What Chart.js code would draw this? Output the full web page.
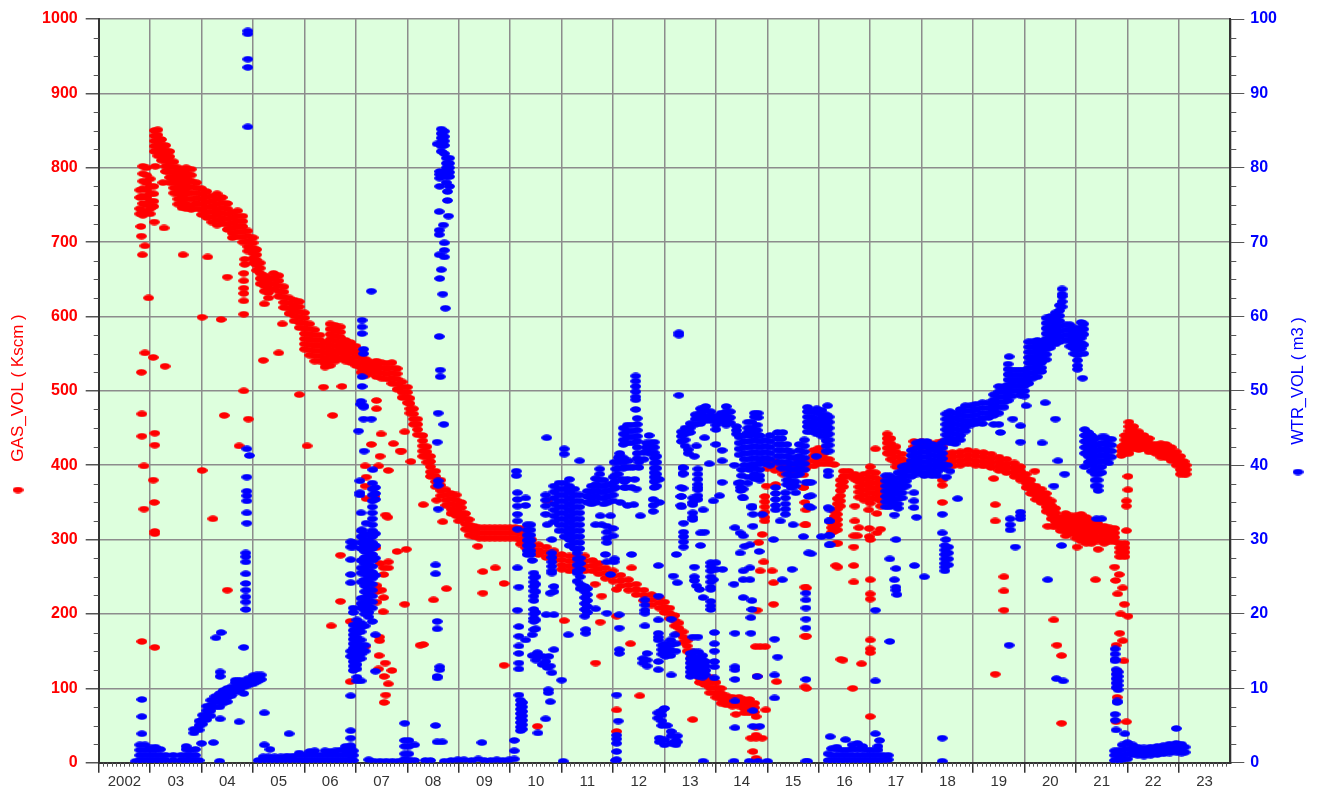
<!DOCTYPE html>
<html>
<head>
<meta charset="utf-8">
<title>GAS_VOL / WTR_VOL</title>
<script src="https://cdn.jsdelivr.net/npm/chart.js@4"></script>
<style>
  html, body { margin: 0; padding: 0; background: #fff; }
  #box { width: 1323px; height: 789px; }
</style>
</head>
<body>
<div id="box"><canvas id="chart" width="1323" height="789"></canvas></div>
<script>
// every row is: year, then the values read at that year
const yearLabels = ["2002","03","04","05","06","07","08","09","10","11","12","13","14","15","16","17","18","19","20","21","22","23"];

const gasEarly = [
  [2002.8,770,760,745,738],[2002.86,802,792,782,772,762,752,742,736],[2002.93,800,790,780,770,760,750,740],
  [2003.0,785,775,765,755,745,738],[2003.07,775,765,755,748],[2003.1,802],[2003.25,780]
];
const gasBand2003 = [
  [2003.08,850,843,836,829,822],[2003.15,851,844,837,830,823,816],[2003.22,838,831,824,817,810],
  [2003.3,830,823,816,809,802,795],[2003.38,822,815,808,801,794,787,780],[2003.46,808,801,794,787,780,773,766],
  [2003.54,800,793,786,779,772,765,758,751],[2003.62,795,788,781,774,767,760,753,746],[2003.7,800,793,786,779,772,765,758,751,745],
  [2003.8,798,790,782,774,766,758,750,744],[2003.9,780,773,766,759,752,745],[2004.0,772,765,758,751,744,737],
  [2004.1,768,761,754,747,740,733],[2004.2,762,755,748,741,734,727],[2004.3,765,758,751,744,737,730,723],
  [2004.4,760,753,746,739,732,725],[2004.5,752,745,738,731,724,717],[2004.6,740,733,726,719,712,706],
  [2004.7,742,735,728,721,714,707],[2004.8,735,728,721,714,707,700],[2004.9,715,708,701,694,688],
  [2005.0,706,699,692,685,678,672],[2005.07,690,683,676,669,662],[2005.14,672,665,658,651,644],
  [2005.22,655,648,641,634],[2005.3,652,645,638,632],[2005.4,658,651,644,637],[2005.5,655,648,641,634,627],
  [2005.6,640,633,626,619,612],[2005.7,625,618,611,604],[2005.8,622,615,608,601,594],[2005.9,620,613,606,599,592,585],
  [2006.0,605,598,591,584,577,570,563,556],[2006.1,590,583,576,569,562,555,548],[2006.2,582,575,568,561,554,547,540],
  [2006.3,575,568,561,554,547,540],[2006.4,565,558,551,544,537,532],[2006.5,590,583,576,569,562,555,548,541,534],
  [2006.6,588,581,574,567,560,553,546,540],[2006.7,586,579,572,565,558,551,544],[2006.8,568,561,554,547,540],
  [2006.9,565,558,551,544,538],[2007.0,560,553,546,539,534],[2007.1,552,545,538,531,525],[2007.2,542,535,528,521],
  [2007.3,538,531,524],[2007.4,540,533,526,519],[2007.5,538,531,524,517],[2007.6,537,530,523,516],
  [2007.7,538,531,524,517,510],[2007.8,530,523,516,509,502],[2007.9,512,505,498,491],[2008.0,505,498,491,484]
];
const gasBand2008 = [
  [2008.05,490,483,476,470],[2008.12,476,469,462,455],[2008.2,462,455,448,441],[2008.3,440,433,426,419,412],
  [2008.38,425,418,411,404],[2008.45,412,405,398,391,385],[2008.55,392,385,378,371],[2008.65,380,373,366,359],
  [2008.75,367,360,353,346],[2008.85,362,355,348,341,335],[2008.95,360,353,346,339,332],[2009.05,350,343,336,329],
  [2009.13,335,328,321,314],[2009.2,327,320,313,306],[2009.3,318,311,304],[2009.4,316,309,302],[2009.5,316,309,302],
  [2009.6,316,309,302],[2009.7,316,309,302],[2009.8,316,309,302],[2009.9,316,309,302],[2010.0,316,309,302],[2010.1,316,309,302],
  [2010.2,315,308,300,294],[2010.3,310,303,296,289],[2010.42,300,293,286],[2010.55,293,286,280],[2010.7,290,283,276],
  [2010.85,285,278,272],[2011.0,280,273,266,260],[2011.15,278,271,264,258],[2011.3,278,271,264,258],[2011.45,278,271,264,258],
  [2011.6,272,265,258],[2011.72,268,261,254],[2011.85,262,255,248],[2012.0,258,251,244],[2012.15,252,245,238],
  [2012.3,246,239,232],[2012.45,240,233,226],[2012.6,232,225,218],[2012.75,226,219,212],[2012.9,222,215,208],
  [2013.0,216,209,202],[2013.1,208,201,194],[2013.2,198,191,184],[2013.28,188,181,174],[2013.36,176,169,162],
  [2013.44,164,157,150],[2013.52,150,143,136],[2013.6,140,133,126],[2013.68,128,121,114,108],[2013.78,118,111,105],
  [2013.88,115,108,101,94],[2014.0,108,101,94,88],[2014.1,100,93,86,80],[2014.2,90,84,78],[2014.32,88,82,76],
  [2014.45,88,82,76],[2014.55,85,79,73,67],[2014.65,85,79,73,67],[2014.75,80,74,68]
];
const gasBand2015 = [
  [2015.0,408,402,396],[2015.15,405,399,393],[2015.3,400,394,388],[2015.45,400,392],[2015.6,408,400,394],[2015.75,408,402,396],
  [2015.9,420,413,406,399],[2016.0,423,416,409,402],[2016.1,416,409,402],[2016.2,408,402],[2016.3,401],
  [2014.95,358,351,344,337,330,325],[2015.16,374],[2014.98,372],
  [2016.25,322,316,310],[2016.3,338,331,324,317,311],[2016.36,355,348,341,334,327,320,313],[2016.42,380,373,366,359,352,345],
  [2016.48,392,385,378,371],[2016.58,392,385],[2016.7,388,381],[2016.78,385,378,371,364,357],[2016.88,388,381,374,367,360,353],
  [2017.0,398,391,384,377,370,363,356,349],[2017.1,390,383,376,369,362,355],[2017.2,380,373,366,359,352],[2017.3,375,368,361,354],
  [2017.4,370,362],[2017.33,442,436,430,423,416],[2017.4,436,429,422,415,408],[2017.5,425,418,411,404,398],
  [2017.62,415,408,401,395],[2017.75,405,398],[2017.85,432,425],[2018.0,432,425],[2018.15,430,424],[2018.3,430,424],[2018.4,432,425]
];
const gasBand2018 = [
  [2018.47,416,410,404,398],[2018.6,417,411,405,399],[2018.75,418,412,406,400],[2018.9,420,414,408,402],[2019.05,418,412,406,400],
  [2019.2,417,411,405,399],[2019.35,415,409,403,397],[2019.5,411,405,399,393],[2019.65,408,402,396,390],[2019.8,403,397,391,385],
  [2019.92,398,392,386,380],[2020.03,388,382,376,370],[2020.12,380,374,368,362],[2020.22,372,366,360,354],[2020.32,368,362,356,350],
  [2020.42,362,356,350,344,338],[2020.52,352,346,340,334,328],[2020.6,342,336,330,324,318],[2020.7,330,324,318,312],
  [2020.8,335,329,323,317,311,305],[2020.9,332,326,320,314,308],[2021.0,332,326,320,314,308,302],[2021.1,334,328,322,316,310,304,298],
  [2021.2,330,324,318,312,306,300,295],[2021.3,325,319,313,307,301,295],[2021.42,322,316,310,304,298],[2021.55,318,312,306,300,295],
  [2021.65,316,310,304,298],[2021.75,315,309,303,297],[2021.85,295,289,283,277],[2021.95,295,289,283,277],[2020.45,318],[2020.55,318],
  [2021.88,425,419,413],[2021.95,440,434,428,422,416],[2022.03,458,452,446,440,434,428,422,416],[2022.12,452,446,440,434,428,422],
  [2022.22,445,439,433,427,421],[2022.32,440,434,428,422],[2022.42,436,430,424,418],[2022.55,428,422,416],[2022.65,429,423,417,411],
  [2022.75,428,422,416,410],[2022.85,424,418,412,406],[2022.95,418,412,406,400],[2023.03,412,406,400,394,388],[2023.1,405,399,393,388],[2023.14,400,394,388]
];
const gasStray = [
  [2002.82,721],[2003.08,727],[2003.27,719],[2002.83,708],[2002.9,695],[2002.85,683],[2002.97,625],[2002.9,551],[2003.06,545],[2003.29,533],[2002.83,525],
  [2003.64,683],[2004.12,680],[2004.5,653],[2004.82,658,648,638,631,621,603,500],[2004.84,677,670],[2004.01,599],[2004.38,596],[2005.22,617],[2005.3,625],
  [2005.57,590],[2005.5,551],[2005.2,541],[2006.37,505],[2006.73,506],[2005.9,495],
  [2002.84,469,439],[2003.09,443,427],[2002.88,399],[2003.06,380],[2003.08,350],[2002.88,341],[2003.09,311,308],[2002.84,163],[2003.09,155],
  [2004.01,393],[2004.22,328],[2004.44,467],[2004.5,232],[2004.73,426],[2004.91,462],[2006.05,426],[2006.55,467],[2006.7,279,217],[2006.52,184],[2006.89,109,190],
  [2007.4,487,476],[2007.49,442],[2007.3,428],[2007.73,429],[2007.86,419],[2007.47,412],[2007.95,445],[2007.63,393],[2007.18,399],[2007.44,399],[2007.2,384],[2007.18,372],
  [2007.2,355],[2007.37,358],[2007.58,333],[2007.62,330],[2007.39,289],[2007.8,284],[2007.98,287],[2007.47,268],[2007.63,270],[2007.54,262],[2007.63,262],[2007.54,253],
  [2007.41,238],[2007.5,232],[2007.4,230],[2007.54,222],[2007.41,216],[2007.95,213],[2007.53,203],[2007.46,169,164],[2007.45,144],[2007.57,134],[2007.44,126],[2007.7,124],
  [2007.55,116],[2007.63,106],[2007.58,91],[2007.55,81],[2007.18,156],[2008.25,158],[2008.07,405],
  [2007.89,419],[2008.31,347],[2008.69,324],[2009.0,325],[2008.57,353],[2009.37,291],[2009.47,257],[2009.71,262],[2009.88,241],[2008.76,234],[2009.47,228],[2008.51,219],[2008.31,159],[2009.88,131],
  [2010.53,49],[2010.72,352],[2011.05,191],[2011.75,189],[2011.78,224],[2011.65,240],[2012.07,233],[2012.36,262],[2012.07,197],[2012.34,160],[2011.66,134],[2012.07,71,42],[2013.55,58],[2012.52,90],
  [2014.39,65],[2014.78,62,48,37,33],[2014.68,33],[2014.9,33],[2014.72,15],[2014.78,6],[2014.97,71],
  [2014.8,116],[2015.18,109],[2015.73,102,170,236,320,350],[2015.7,370,387],[2015.12,213],[2014.93,270],[2014.86,258],[2015.09,258],[2015.12,242],[2014.8,205],[2014.86,156],[2014.77,156],[2014.96,156],
  [2016.43,139],[2016.33,265,295],[2014.83,296],[2014.9,307],
  [2020.2,392],[2019.4,382],[2019.43,347,325],[2019.6,250,231,205],[2019.43,119],[2020.57,192],[2020.63,158],[2020.72,144,53],[2021.02,290],[2021.43,287],[2021.38,246],
  [2022.01,385,367],[2021.98,352,345,312],[2021.75,263],[2021.84,253],[2021.77,245],[2021.91,235],[2021.81,227],[2021.94,213],[2021.87,200],[2022.01,197],[2021.85,174],[2021.91,164],[2021.78,158],[2021.93,137],[2021.8,123],[2021.8,88],[2021.78,55],[2021.98,55],
  [2018.4,380,373,350],[2016.37,295,263],[2016.68,290,265,243],[2017.0,246,227,220,165,153,148,62],[2016.47,138],[2016.83,133],[2016.66,100],[2016.68,305],[2016.75,305],
  [2017.1,422],[2016.78,316],[2016.98,315],[2017.2,314],[2017.13,309],[2016.98,304],[2017.0,300],[2017.13,335],[2016.97,340],[2017.2,345],[2016.7,345,325],
  [2015.76,235],[2015.76,170],[2015.76,100],[2015.7,370],[2015.75,340,320]
];

const wtrBottom2002 = [
  [2002.72,0.2],[2002.8,0.3,1,1.7,2.4],[2002.9,0.3,1,1.7,2.4],[2003.0,0.3,1,1.7,2],[2003.1,0.3,1,1.7,2.1],[2003.2,0.3,1,1.8],[2003.3,0.3,1],
  [2003.45,0.3,1],[2003.6,0.3,1],[2003.7,0.3,1,1.8,2.2],[2003.78,0.3,1,1.7],[2003.88,0.3,1],[2003.95,0.3],
  [2002.84,8.5,6.2,3.9],[2004.0,2.6],[2004.23,2.7],[2003.88,1.8],[2004.35,0.2],
  [2005.1,0.3],[2005.2,0.3,0.8],[2005.3,0.3,0.8],[2005.42,0.3,0.8],[2005.54,0.3,0.8],[2005.66,0.3,0.9],[2005.78,0.3,0.9],[2005.9,0.3,1,1.3],[2006.0,0.3,1],
  [2006.1,0.3,1,1.5],[2006.2,0.3,1,1.6],[2006.3,0.3,1],[2006.4,0.3,1,1.6],[2006.5,0.3,1,1.5],[2006.6,0.3,1,1.6],[2006.7,0.3,1,1.7],[2006.8,0.3,1,1.6,2.2],[2006.9,0.3,1,1.6,2.3],[2006.95,0.3,1,1.6],
  [2005.22,6.7,2.4],[2005.33,1.8],[2005.7,3.9]
];
const wtrRise2004 = [
  [2003.85,4,4.5],[2003.95,4.4,5,5.6],[2004.02,5.2,5.8,6.4],[2004.1,5.8,6.4,7,7.6],[2004.18,6.3,7,7.7,8.4],[2004.26,7.5,8.2,8.9],
  [2004.35,7.5,8.2,8.9,9.3],[2004.42,8,8.6,9.2,9.7],[2004.5,8.2,8.8,9.4,10],[2004.58,9,9.6,10.2],[2004.66,9.5,10.1,10.8,11.1],
  [2004.74,9.8,10.4,11.1],[2004.82,10.2,10.8],[2004.9,10.4,11,11.3],[2005.0,10.6,11.2,11.7],[2005.08,10.9,11.5,11.8],[2005.16,11.2,11.8],
  [2004.36,12.2,11.6,5.9],[2004.38,17.5],[2004.28,16.8],[2004.82,15.5,9.3],[2004.73,5.5],
  [2004.88,42.2,38.4,36.5,35.9,35.2,33.6,32.2],[2004.93,41.3],[2004.86,28.2,27.7,27,25.4,24.1,23.2,22.3,21.6,20.6],
  [2004.9,98.4,98,94.6,93.5,85.5]
];
const wtrColumn2007 = [
  [2006.9,29.7,29,25.3,24.2,15,14.3],[2006.95,20.8,20.2,18.5,17.8,17.2,16.6,16,15.4,14.8,14.2,13.6,13,12.4],
  [2007.02,19.2,18.6,18,17.4,16.8,16.2,15.6,15,14.4,13.8,13.2,12.6,11.5,11],[2007.1,18.8,18.2,17.6,16.5,15.8,15.2,14.6,14,11],[2007.18,18.4,15.8,15],
  [2006.9,27.3,9,4.3,3.3,2,1.2,0.3],[2006.95,29.6,29],[2007.1,31.2,30.4,29.6,28.8,27.2,26.2,25.5,24.3,22.1,21.4,20.8],
  [2007.17,30.8,30,29.2,28.4,27.6,26.8,26,25.4,24.6,23.8,23,22.2,21.4,20.6,20],[2007.25,30.6,29.8,29,28.2,27.4,26.6,25.8,25,24.2,23.4,22.6,21.8,21,20.2,19.6],
  [2007.32,37.6,36.8,36,35.2,34.4,33.6,32.8,32,31.2,30.4,29.6,28.8,28,27.2,26.4,25.6,24.8,24,23.2,22.4,21.6,20.8,19],[2007.38,37,36.2,35.4,30.8,29.2,27.5,25.2,17.2,12.3],
  [2007.12,59.5,58.6,57.7,51.9,50.6],[2007.15,55.6,55],[2007.09,48.2],[2007.15,47.8],[2007.1,48.6],[2007.15,48],[2007.15,46.2],[2007.3,46.2,63.4],[2007.05,44.6],[2007.16,41.9],[2007.33,39.4],[2007.08,37.9],[2007.08,36.3,36],[2007.1,33.6],[2007.2,32.2],[2007.12,31.3],
  [2007.25,0.4],[2007.35,0.2],[2007.47,0.2],[2007.59,0.2],[2007.71,0.2],[2007.83,0.2],[2007.95,0.2,0.5,5.3,3,2.2,1.2],[2008.03,3,2.2,1.2,0.4],[2008.14,2.4,0.3],[2008.05,0.2]
];
const wtrSpike2008 = [
  [2008.66,85.2,84.6,84,83.4,82.9,82.2],[2008.72,84.9,84.2,83.6,83,81.9],[2008.58,83.2],[2008.76,81.3,80.6,80,79.4,78.8,78],[2008.82,81.3,80.6,80,79.4,78.8,77.5],
  [2008.63,79.5,79.1,78.6,77.5],[2008.78,76.8,75.6],[2008.62,74.1],[2008.8,73.5],[2008.7,72.3],[2008.62,71.6,71],[2008.72,69.9,68.9],[2008.62,68.3],[2008.72,68],[2008.66,66.3],[2008.63,65.1],[2008.69,63],[2008.74,61.1],[2008.62,57.3],[2008.64,52.8,51.9],
  [2008.6,47,37.9,37.3,34.1],[2008.71,45.5],[2008.58,43.1,19,18],[2008.55,26.6,25.4,5],[2008.63,12.9,12.5],[2008.58,11.4,11.6],[2008.58,2.8],[2008.68,2.8],
  [2008.35,0.3],[2008.45,0.3],[2008.72,0.2],[2008.85,0.3],[2008.98,0.4],[2009.1,0.4],[2009.25,0.3],[2009.38,0.5],[2009.5,0.3],[2009.62,0.3],[2009.74,0.4],[2009.86,0.3],[2009.98,0.4],[2010.08,0.5,3,1.6],[2009.45,2.7]
];
const wtrColumn2010 = [
  [2010.12,39.2,38.6],[2010.14,36.3,35.4,34.5,33.4,32.5,31.4,26.2,20.5],[2010.3,35.6,34.6],[2010.17,23.6,18.3,17,15.7,14.7,13.4,12.6,9.1],[2010.3,16.5],
  [2010.2,8.4,7.8,7.2,6.6,6,5.4,4.8,4.3],[2010.24,8.1,7.5,6.9,6.3,5.7,5.1,4.5],
  [2010.33,32,31.3,30.6,29.9,29.2,28.5,28],[2010.4,32,31.3,30.6,29.9,29.2,28.5,28],[2010.43,27.2],[2010.46,25.5,24.9,24.3,23.7,23.1,22.4,21.8,20.6,20,19.4,19,17.9],[2010.43,17.2],[2010.5,25,24,23,20.2,19.2,18],
  [2010.43,14.4],[2010.56,14.3],[2010.69,13.6],[2010.85,15.2],[2010.75,14.3],[2010.78,13],[2010.81,12.1],[2010.63,14.3],[2010.53,14.8],[2010.5,13.8],[2010.62,13.2],[2010.72,12.8],[2011.0,11.1],[2010.74,9.8,9.4],[2010.78,8.2],[2010.69,5.9],[2010.54,4],[2011.03,0.2],
  [2010.71,43.7],[2010.69,36,35.3,34.5,33.4],[2010.72,32],[2010.81,30,28.2,27.6,27,26.4,25.8,25.5],[2010.85,23.7,23,19.9],[2010.78,22.8],[2010.7,19.9],
  [2010.85,37.2,36.4,35.6,34.8,34,33.2,32.4],[2010.95,37.6,36.8,36,35.2,34.4,33.6,32.8,32,31.2],[2011.05,37.6,36.8,36,35.2,34.4,33.6,32.8,32,31.2,30.4],[2011.15,37.2,36.4,35.6,34.8,34,33.2,32.4,31.6,30.8,30,29.2],[2011.25,36.8,36,35.2,34.4,33.6,32.8,32,31.2,30.4,29.6,28.8],[2011.35,36,35.2,34.4,33.6,32.8,32,31.2,30.4,29.6,28.8],
  [2011.05,42.2,41.5],[2011.35,40.6],[2011.15,38.1],
  [2011.3,28.2,27.4,26.6,25.8,25.5,24.4],[2011.36,27.5,26.8,26,25,24,23.4],[2011.45,23.7,23,22.2,21.4,20.6,19.7],[2011.5,23.4,22.6,21.8,21,20.2],[2011.47,17.9,17.4],[2011.13,17.2],
  [2011.5,36.5,35.8,35],[2011.58,37.2,36.4,35.6,34.8],[2011.66,38.2,37.4,36.6,35.8,35],[2011.74,39.5,38.8,38,37.2,36.4,35.6],[2011.82,38,37.2,36.4,35.6,34.8],[2011.9,37.4,36.6,35.8,35],[2012.0,38.4,37.6,36.8,36,35.2],[2012.05,39.5,38.7,37.9,37],
  [2012.1,41,40.4,39.6,38.8],[2012.2,41,40.4,39.6],[2012.3,40.6,39.7],[2012.02,40.4],[2012.25,37],[2012.28,38.1],[2012.18,38.1],[2012.42,38.1],[2012.4,34.7],[2012.28,34.6],[2012.53,33.2],[2012.36,37],[2012.45,36.8],
  [2011.75,33.2],[2011.88,31.8,31,30.2,29.6],[2011.78,32],[2011.66,32],[2011.95,33.2],[2012.0,31.5,30.5],[2011.85,28],[2012.03,27.4],[2011.95,25.3],[2011.88,27],[2012.02,27],[2012.36,28],[2011.66,20.7],[2011.88,20.1]
];
const wtrColumn2012 = [
  [2012.44,52,51.3,50.6,49.9,49.2,48.8,47.5],[2012.47,46.3,45.5,44.7,43.9,43.2,42.4,41.6,40.9],[2012.2,45,44.2,43.4,42.8],[2012.28,45.4,44.6,43.8,43],[2012.37,45.4,44.6,43.8,43],[2012.13,41.6,41.2],
  [2012.5,40.4,39.7],[2012.6,41.7,40.8],[2012.7,44],[2012.65,43,42.4,41.8],[2012.72,43,42.4,41.6],[2012.8,43.1,42.4,41.7,41,40.3,39.6,39,38.4,37.8,37],[2012.85,41.2,40.4,39.6,38.8,38.2,37.2],[2012.9,38.1,35],[2012.78,35.4,34.6,33.8],[2012.38,39.7],[2012.14,35],[2012.22,39.7,37.8,37],
  [2012.62,21.9,21.2,20.5,20.1,18.4],[2012.66,14.7,13.8,13],[2012.58,14,13.4],[2012.88,22.4,26.5,19.2,17.4,16.9,16.5,13.6,12.5],[2013.13,19.3,11.8],[2013.02,16,15.4,14.8,14.3],[2013.12,16.5,15.8,15.1,14.4],[2013.22,16,15],[2012.95,15.8,15.2,14.6],[2013.17,25.1],[2013.25,24.2],[2013.2,17.2],[2013.65,16.9],[2013.55,16.9],
  [2013.0,7.3],[2012.87,6.7,6],[2012.95,7,6.4,5.6,5],[2013.05,5],[2013.13,4.2,3.6],[2013.25,3.6,2.8],[2012.9,3.3,2.8],[2013.0,3.1,2.4],[2013.13,2.6],[2013.22,3,2.4],
  [2012.07,9.1,3.7,3.2,2.6,1.5,0.4],[2012.1,5.6],[2012.12,18.1,19.9,15.2,14.7],
  [2013.36,39.7,38.8,36.9],[2013.33,35.8,34.4],[2013.37,32.2,31,30.4,29.7,29],[2013.23,28],
  [2013.65,39.5,38.8,38.1,37.4,36.7,35.9],[2013.55,35.6,35,34.7,33.6,33,32.7],[2013.75,34],[2013.7,30.9,29.2],[2013.78,31],[2013.58,26.3,25,24.5],[2013.62,23.8],[2013.68,23.3],[2013.75,22.2],
  [2013.9,26.9,26.4,25.8,25,24.3,23.6,23.3,21.7,21.1,20.6],[2014.0,26.9,26],[2014.13,26],[2013.95,24.6],[2013.97,17.5,16,15,13.6,12.9,11.4],
  [2013.5,14.7,14,13.4,12.8,12.2,11.6],[2013.58,14.9,14.2,13.6,13,12.4,11.8],[2013.66,14.9,14.2,13.6,13,12.4,11.6],[2013.74,14.4,13.8,13.2,12.6,12,11.5],[2013.8,13.6,13,12.4,11.8],
  [2014.37,31.6,17.4,12.9,12.5,11.2,8.3,4.7],[2014.47,30.9,37.7],[2014.53,30.5,36.8,35.6,25.8,24.6],[2014.56,29.1],[2014.47,28.2],[2014.66,29.3,26.2,24.6],[2014.84,28.4],[2014.35,24],[2014.53,22.2],[2014.7,21.8,20.6,34.5],[2014.68,19.5,17.4],[2014.72,33.4,31.8],[2014.9,33.4],[2014.72,7,4.9],[2014.85,4.9],[2014.8,11.6],
  [2015.2,14.2],[2015.14,16.6,11.8,8.7],[2015.16,37,36.2,35.4,34.6,34],[2015.35,36.3,35.6,34.8,34.1,33.4],[2015.55,36.3],[2015.25,32.5],[2015.5,32],[2015.7,30.4],[2015.8,28.2],[2015.8,34.5,37.7,35.8],[2015.12,30],[2015.48,26],[2015.29,24.6],
  [2015.75,22.8,21.9,20.8,19.3,18.1,11.2],[2016.18,34.3],[2016.2,32.5,30.5,29.3],
  [2012.05,0.3],[2013.75,0.2],[2014.35,0.2],[2014.65,0.2],[2014.82,0.2],[2015.0,0.2],[2015.78,0.2]
];
const wtrArc2013 = [
  [2013.33,44.5,43.9,43.2],[2013.4,45,44.2,43.4,42.6],[2013.46,42.1,41.6],[2013.5,45.6,45,44.4],[2013.6,46.8,46.2,45.5],[2013.7,47.6,47,46.3,45.6],[2013.8,47.9,47.3,46.6,46],
  [2013.9,47.2,46.6,46],[2014.0,46.6,46,45.4,44.8],[2014.1,47,46.4,45.8],[2014.2,47.9,47.2,46.6,46,45.4],[2014.28,47.2,46.4,45.7],[2014.4,45.2,44.7,44.2],[2014.75,47,46.5],[2014.82,47,46.4],
  [2014.62,45.8,45,44.4],[2014.7,45.8,45,44.3],[2014.8,45.4,44.7,44],
  [2014.45,43.8,43,42.2,41.4],[2014.55,44,43.2,42.4,41.6,40.8,40],[2014.65,44,43.2,42.4,41.6,40.8,40,39.4],[2014.75,44.2,43.4,42.6,41.8,41,40.2,39.6,38.8,38.2],[2014.85,44,43.2,42.4,41.6,40.8,40.2,39.4,38.6,38],[2014.95,43.4,42.6,41.8,41,40.2],
  [2015.05,44,43.2,42.4,41.6,40.8,40],[2015.2,44.4,43.6,42.8,42,41.2,40.4],[2015.28,43.6,42.8,42,41.2,40.4,39.6],[2015.38,42.8,42,41.2,40.4,39.6,38.8,38,37.4],[2015.46,41.8,41,40.2,39.4,38.6,37.8,37],[2015.54,41,40.2,39.4,38.6,37.8,37.2],[2015.62,42.8,42,41.2,40.4,39.6,38.8],[2015.72,43.4,42.6,41.8,41,40.2,39.4],
  [2015.78,47.8,47.2,46.5,45.8,45.2,44.5],[2015.86,47.2,46.5,45.8,45.2,44.5],[2015.96,47.6,47,46.2,45.5,44.8,44.2],[2016.06,47.4,46.7,46,45.3,44.6,43.9],[2016.14,46.8,46.1,45.4,44.7,44,43.3,42.6,41.9],[2016.2,46.5,45.8,45,44.2,43.4,42.7,41.9],[2016.17,48],
  [2013.78,43.7],[2013.62,42.6],[2014.0,42.8],[2014.12,42],[2013.58,41.2],[2013.87,40.2],[2014.12,40.6],[2013.36,39.6,38.9],[2013.65,37,35.4],[2013.32,37,35.8,34.6],[2014.12,37.7],[2014.07,35.9],[2013.95,35.2],[2014.48,37,36.6],[2014.52,35.7],[2014.43,37.6],[2014.7,34.3],[2014.36,40],[2014.5,39.4,38.6],[2014.62,38.4,37.6],[2015.3,44.4],[2013.28,49.4,57.5,57.8]
];
const wtrBottom2016 = [
  [2016.18,0.3,1.2],[2016.25,0.3,1,1.9],[2016.35,0.3,1,1.8,2.1],[2016.45,0.3,1,1.7],[2016.55,0.3,1,1.7],[2016.65,0.3,1,1.8,2.4],[2016.75,0.3,1,1.8,2.6],[2016.85,0.3,1,1.8,2.2],
  [2016.95,0.3,1,1.7],[2017.05,0.3,1,1.7],[2017.15,0.3,1,1.7,2.2],[2017.25,0.3,1],[2017.35,0.4,1],
  [2016.22,3.5],[2016.52,3.1],[2017.18,3],[2017.1,3.9],[2018.4,3.3,0.2],[2015.75,0.2],
  [2021.75,0.3,1,1.6],[2021.82,0.3,1,1.6],[2021.9,0.4,1,1.7,2.4],[2022.0,0.5,1.2,1.9,2.7],[2022.1,1.1,1.7,2.4],[2022.2,1,1.6,2.1],[2022.32,0.9,1.5,2],[2022.45,1,1.6,2.1],[2022.58,1.1,1.7,2.2],[2022.7,1.2,1.8,2.3],[2022.82,1.3,1.9,2.5],[2022.95,1.4,2,2.6],[2023.05,1.3,1.9,2.5],[2023.12,1.4,2.1],
  [2022.95,4.6],[2021.95,3.9],[2021.78,4.4],[2021.76,5.7,6.5],[2021.8,8.1,8.3],[2021.78,10.1,10.7,11.3,11.9,12.5],[2021.82,9.8,10.4,11,11.6,12.2],[2021.76,15.3,14.6,13.9,13.7]
];
const wtrRise2017 = [
  [2017.3,38.6,37.9,37.2,36.5,35.8,35.1,34.4],[2017.38,38.6,37.9,37.2,36.5,35.8,35.1,34.4],[2017.46,38.2,37.5,36.8,36.1,35.4,34.7],[2017.54,39,38.3,37.6,36.9,36.2,35.5,34.8,34.2],[2017.62,39.8,39.1,38.4,37.7,37,36.3,35.6],[2017.7,40,39.3,38.6,37.9,37.2],
  [2017.8,42,41.3,40.6,39.9,39.2,38.5],[2017.9,43,42.3,41.6,40.9,40.2,39.5,38.8],[2018.0,43.2,42.5,41.8,41.1,40.4,39.7,39],[2018.1,43.2,42.5,41.8,41.1,40.4,39.7,39],[2018.2,42.8,42.1,41.4,40.7,40,39.3,38.6],[2018.3,42.6,41.9,41.2,40.5,39.8,39.1,38.6],[2018.4,43,42.3,41.6,40.9,40.2,39.5],
  [2018.47,46.9,46.2,45.5,44.8,44.1,43.4],[2018.55,47.2,46.5,45.8,45.1,44.4,43.7,43],[2018.65,47,46.3,45.6,44.9,44.2,43.5,42.9],[2018.75,47.5,46.8,46.1,45.4,44.7,44,43.4],[2018.85,48,47.3,46.6,45.9,45.2,44.6],[2018.95,48,47.3,46.6,45.9,45.4],[2019.05,48.2,47.5,46.8,46.1,45.6],[2019.18,48.4,47.7,47,46.3,45.6],[2019.3,48.4,47.7,47,46.4],[2019.4,49.5,48.8,48.1,47.4,46.7],[2019.5,50.6,49.9,49.2,48.5,47.8,47],[2019.6,50.6,49.9,49.2,48.5,47.8],
  [2019.68,53.6,52.9,52.2,51.5,50.8,50.1,49.4,48.7],[2019.76,52.8,52.1,51.4,50.7,50,49.3],[2019.84,52.8,52.1,51.4,50.7,50],[2019.92,52.8,52.1,51.4,50.7,50,49.4],[2020.0,52.8,52.1,51.4,50.7,50,49.3],[2020.08,56.6,55.9,55.2,54.5,53.8,53.1,52.4,51.7,51],[2020.16,56.6,55.9,55.2,54.5,53.8,53.1,52.4,51.7],[2020.25,56.8,56.1,55.4,54.7,54,53.3,52.6,51.9],[2020.33,56.6,55.9,55.2,54.5,53.8,53.1,52.6],
  [2020.42,59.8,59.1,58.4,57.7,57,56.3,55.6,54.9,54.2],[2020.5,60,59.3,58.6,57.9,57.2,56.5,55.8],[2020.6,60.5,59.8,59.1,58.4,57.7,57,56.3],[2020.68,61.5,60.8,60.1,59.4,58.7,58,57.3,56.6],[2020.73,63.7,63,62.7,62,61.3],[2020.8,58.9,58.2,57.5,56.8],[2020.88,58.9,58.2,57.5,56.8,56],[2020.96,58.5,57.8,57.1,56.4,55.7,55],[2021.03,58.3,57.6,56.9,56.2,55.5,54.8,54.1,53.4,52.9],[2021.1,59.2,58.5,57.8,57.1,56.4,55.7],[2021.15,59,58.3,57.6,56.2,55],[2021.13,51.7]
];
const wtrBlock2021 = [
  [2021.17,44.8,44,43.2,42.4,41.6],[2021.24,44.4,43.6,42.8,42,41.2,40.4],[2021.3,44,43.2,42.4,41.6,40.8,40,39.2],[2021.37,43.6,42.8,42,41.2,40.4,39.6,38.8,38,37.2],[2021.43,42.8,42,41.2,40.4,39.6,38.8,38,37.2,36.6],[2021.5,43.8,43,42.2,41.4,40.6,39.8,39],
  [2021.56,43.8,43,42.2,41.4,40.6],[2021.63,43.5,42.7,41.9,41.1,40.3],[2021.69,43.5,42.7,41.9,41.1],[2021.17,39.8]
];
const wtrStray2017 = [
  [2016.05,30.4],[2015.85,28.1],[2016.22,29.3],[2016.2,30.6],[2015.85,34.3,35.9,37.7],[2015.75,37.7],[2016.2,34.1,32.5],[2016.18,38.6,39.2],[2015.95,41.2],
  [2016.37,0.2],[2017.1,20.5],[2017.38,27.4,16.3],[2017.5,26.1],[2017.86,26.5],[2018.05,25],[2017.47,24.6],[2017.5,23.6,23.2],[2017.52,22.6],[2017.1,11],[2017.5,30],[2017.47,33.3],[2017.9,33],[2017.85,35.2,34.3,36.3],[2018.05,38.6],
  [2018.7,35.5],[2018.4,33.4,30.9],[2018.47,30],[2018.45,29.2,28.6,28,27.4,26.8,26.3,25.8],[2018.52,29,28.2,27.4,26.6],[2019.7,54.6],[2020.03,48],[2020.4,48.4],[2020.6,46.2],[2020.34,43],[2019.92,43.1,45.3],[2019.77,46.2],[2019.53,44.4],[2019.4,45.5],[2019.5,45.5],
  [2020.65,40.6],[2020.78,38.8],[2020.57,37.2],[2021.4,32.8],[2021.5,32.8],[2019.72,32.8,32,31.3],[2019.82,29],[2019.92,33.7,33.2,32.8],[2020.45,24.6],[2020.72,29.2],[2019.7,15.8],[2020.62,11.3],[2020.75,11],[2018.55,39.2],[2018.48,38.4],[2018.5,40]
];

const gasRows = [gasEarly, gasBand2003, gasBand2008, gasBand2015, gasBand2018, gasStray];
const wtrRows = [wtrBottom2002, wtrRise2004, wtrColumn2007, wtrSpike2008, wtrColumn2010, wtrColumn2012, wtrArc2013, wtrBottom2016, wtrRise2017, wtrBlock2021, wtrStray2017];

function toPoints(groups) {
  const points = [];
  groups.forEach((rows) => {
    rows.forEach((row) => {
      row.slice(1).forEach((value) => points.push({ x: row[0], y: value }));
    });
  });
  return points;
}

// flat oval marker, the picture has no round dots
function buildMarker(color) {
  const marker = document.createElement("canvas");
  marker.width = 11;
  marker.height = 7;
  const c = marker.getContext("2d");
  c.fillStyle = color;
  c.beginPath();
  c.ellipse(5.5, 3.5, 5.4, 3.3, 0, 0, Math.PI * 2);
  c.fill();
  return marker;
}

const redMarker = buildMarker("#ff0000");
const blueMarker = buildMarker("#0000ff");

const plotBackground = {
  id: "plotBackground",
  beforeDraw(chart) {
    const { ctx, chartArea } = chart;
    ctx.save();
    ctx.fillStyle = "#ddffdd";
    ctx.fillRect(chartArea.left, chartArea.top, chartArea.right - chartArea.left, chartArea.bottom - chartArea.top);
    ctx.restore();
  },
};

// short ticks between the labelled ones, and the side titles with their marker
const axisExtras = {
  id: "axisExtras",
  afterDraw(chart) {
    const { ctx, scales, chartArea } = chart;
    ctx.save();
    ctx.strokeStyle = "#555";
    ctx.lineWidth = 1;
    ctx.beginPath();
    for (let v = 25; v < 1000; v += 25) {
      if (v % 100 === 0) continue;
      const y = Math.round(scales.y.getPixelForValue(v)) + 0.5;
      ctx.moveTo(chartArea.left - 5, y);
      ctx.lineTo(chartArea.left, y);
      ctx.moveTo(chartArea.right, y);
      ctx.lineTo(chartArea.right + 6, y);
    }
    for (let m = 1; m < 22 * 12; m++) {
      if (m % 12 === 0) continue;
      const x = Math.round(scales.x.getPixelForValue(2002 + m / 12)) + 0.5;
      ctx.moveTo(x, chartArea.bottom);
      ctx.lineTo(x, chartArea.bottom + 4);
    }
    ctx.stroke();

    ctx.textAlign = "center";
    ctx.textBaseline = "middle";
    ctx.font = "17px 'Liberation Sans', Arial, sans-serif";
    drawSideTitle(ctx, "GAS_VOL ( Kscm )", 18, 388, "#ff0000");
    ctx.font = "16.5px 'Liberation Sans', Arial, sans-serif";
    drawSideTitle(ctx, "WTR_VOL ( m3 )", 1298, 381, "#0000ff");
    ctx.drawImage(redMarker, 12.5, 486.5);
    ctx.drawImage(blueMarker, 1292.5, 468.5);
    ctx.restore();
  },
};

function drawSideTitle(ctx, text, x, y, color) {
  ctx.save();
  ctx.translate(x, y);
  ctx.rotate(-Math.PI / 2);
  ctx.fillStyle = color;
  ctx.fillText(text, 0, 0);
  ctx.restore();
}

new Chart(document.getElementById("chart"), {
  type: "scatter",
  data: {
    datasets: [
      {
        label: "WTR_VOL ( m3 )",
        data: toPoints(wtrRows),
        yAxisID: "y2",
        pointStyle: blueMarker,
        showLine: false,
      },
      {
        label: "GAS_VOL ( Kscm )",
        data: toPoints(gasRows),
        yAxisID: "y",
        pointStyle: redMarker,
        showLine: false,
      },
    ],
  },
  options: {
    responsive: false,
    animation: false,
    layout: { padding: { top: 19, left: 0, right: 0, bottom: 0 } },
    plugins: {
      legend: { display: false },
      tooltip: { enabled: false },
    },
    scales: {
      x: {
        type: "linear",
        min: 2002,
        max: 2024,
        afterFit: (scale) => { scale.height = 26.3; },
        border: { color: "#333", width: 2 },
        grid: {
          color: "#8c8c8c",
          lineWidth: 1.5,
          tickLength: 10,
          tickColor: (context) => (context.tick && context.tick.value === 2024 ? "transparent" : "#333"),
        },
        ticks: {
          stepSize: 1,
          autoSkip: false,
          maxRotation: 0,
          padding: 0,
          labelOffset: 25.7,
          color: "#333",
          font: { family: "'Liberation Sans', Arial, sans-serif", size: 15 },
          callback: (value) => yearLabels[value - 2002] || "",
        },
      },
      y: {
        position: "left",
        min: 0,
        max: 1000,
        afterFit: (scale) => { scale.width = 98.7; },
        border: { color: "#333", width: 2 },
        grid: { color: "#8c8c8c", lineWidth: 1.5, tickLength: 13, tickColor: "#555" },
        ticks: {
          stepSize: 100,
          padding: 8,
          color: "#ff0000",
          font: { family: "'Liberation Sans', Arial, sans-serif", size: 16, weight: "bold" },
          callback: (value) => String(value),
        },
      },
      y2: {
        position: "right",
        min: 0,
        max: 100,
        afterFit: (scale) => { scale.width = 92.7; },
        border: { color: "#333", width: 2 },
        grid: { drawOnChartArea: false, tickLength: 14, tickColor: "#555" },
        ticks: {
          stepSize: 10,
          padding: 6,
          color: "#0000ff",
          font: { family: "'Liberation Sans', Arial, sans-serif", size: 16, weight: "bold" },
        },
      },
    },
  },
  plugins: [plotBackground, axisExtras],
});
</script>
</body>
</html>
